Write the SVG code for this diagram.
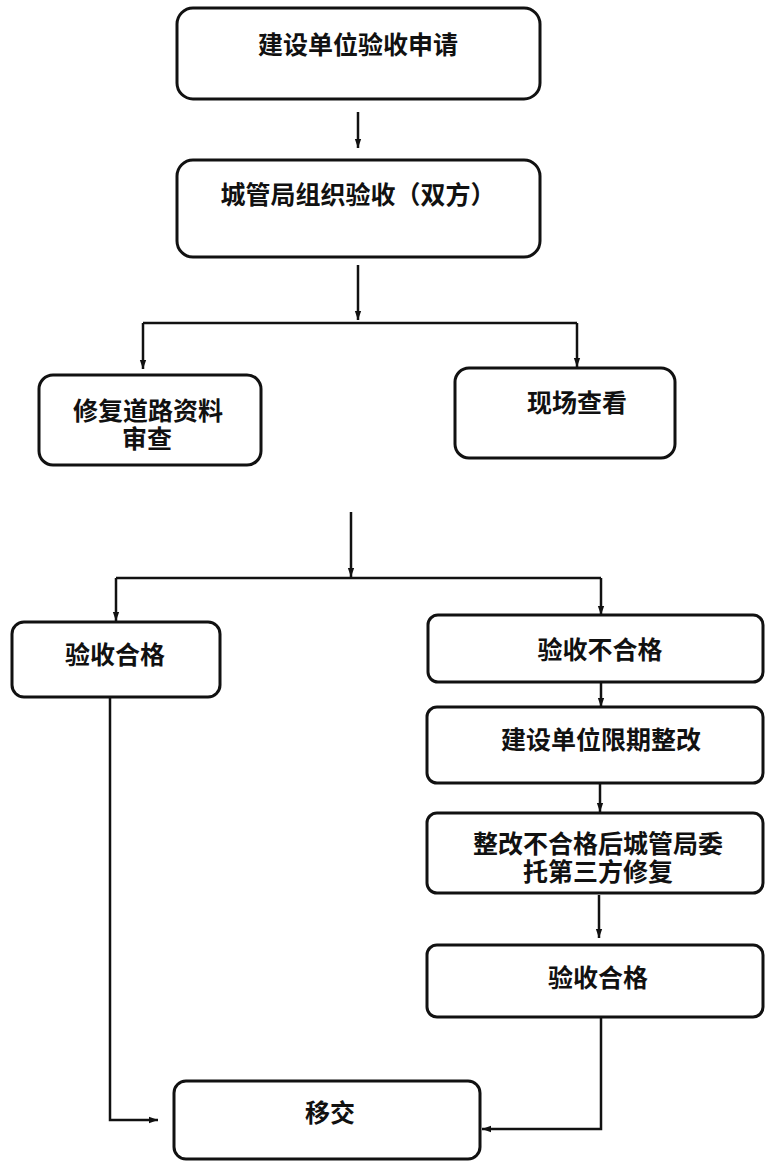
<svg xmlns="http://www.w3.org/2000/svg" width="765" height="1162" viewBox="0 0 765 1162">
<defs>
<marker id="ah" viewBox="0 0 10 10" refX="10" refY="5" markerWidth="9" markerHeight="9" markerUnits="userSpaceOnUse" orient="auto">
<path d="M0,1.5 L10,5 L0,8.5 Z" fill="#111"/>
</marker>
<style>
.box{fill:#fff;stroke:#111;stroke-width:3}
.t{font-family:"Noto Sans CJK SC","Noto Sans CJK JP",sans-serif;font-size:25px;font-weight:bold;fill:#111;text-anchor:middle}
.c{fill:none;stroke:#111;stroke-width:2.5}
.a{fill:none;stroke:#111;stroke-width:2.5;marker-end:url(#ah)}
</style>
</defs>
<rect width="765" height="1162" fill="#fff"/>
<g id="n1"><rect class="box" x="177" y="8" width="363" height="91" rx="16"/><text class="t" x="358" y="54">建设单位验收申请</text></g>
<g id="n2"><rect class="box" x="177" y="160" width="363" height="97" rx="16"/><text class="t" x="358" y="204">城管局组织验收（双方）</text></g>
<g id="n3"><rect class="box" x="39" y="375" width="222" height="90" rx="14"/><text class="t" x="148" y="420">修复道路资料<tspan x="147" dy="28">审查</tspan></text></g>
<g id="n4"><rect class="box" x="455" y="368" width="220" height="90" rx="14"/><text class="t" x="577" y="412">现场查看</text></g>
<g id="n5"><rect class="box" x="12" y="622" width="208" height="75" rx="12"/><text class="t" x="115" y="664">验收合格</text></g>
<g id="n6"><rect class="box" x="428" y="615" width="335" height="67" rx="10"/><text class="t" x="600" y="659">验收不合格</text></g>
<g id="n7"><rect class="box" x="427" y="707" width="336" height="76" rx="10"/><text class="t" x="601" y="749">建设单位限期整改</text></g>
<g id="n8"><rect class="box" x="427" y="813" width="336" height="80" rx="10"/><text class="t" x="598" y="853">整改不合格后城管局委<tspan x="598" dy="28">托第三方修复</tspan></text></g>
<g id="n9"><rect class="box" x="427" y="945" width="336" height="72" rx="10"/><text class="t" x="598" y="987">验收合格</text></g>
<g id="n10"><rect class="box" x="174" y="1081" width="306" height="78" rx="12"/><text class="t" x="330" y="1122">移交</text></g>
<g id="connectors">
<path class="a" d="M358,112 V148"/>
<path class="a" d="M358,265 V320"/>
<path class="c" d="M143,323 H577"/>
<path class="a" d="M143,323 V369"/>
<path class="a" d="M577,323 V367"/>
<path class="a" d="M351,512 V577"/>
<path class="c" d="M116,578 H601"/>
<path class="a" d="M116,578 V621"/>
<path class="a" d="M601,578 V615"/>
<path class="a" d="M601,682 V707"/>
<path class="a" d="M600,783 V812"/>
<path class="a" d="M599,895 V938"/>
<path class="a" d="M601,1017 V1129 H482"/>
<path class="a" d="M110,697 V1120 H158"/>
</g>
</svg>
